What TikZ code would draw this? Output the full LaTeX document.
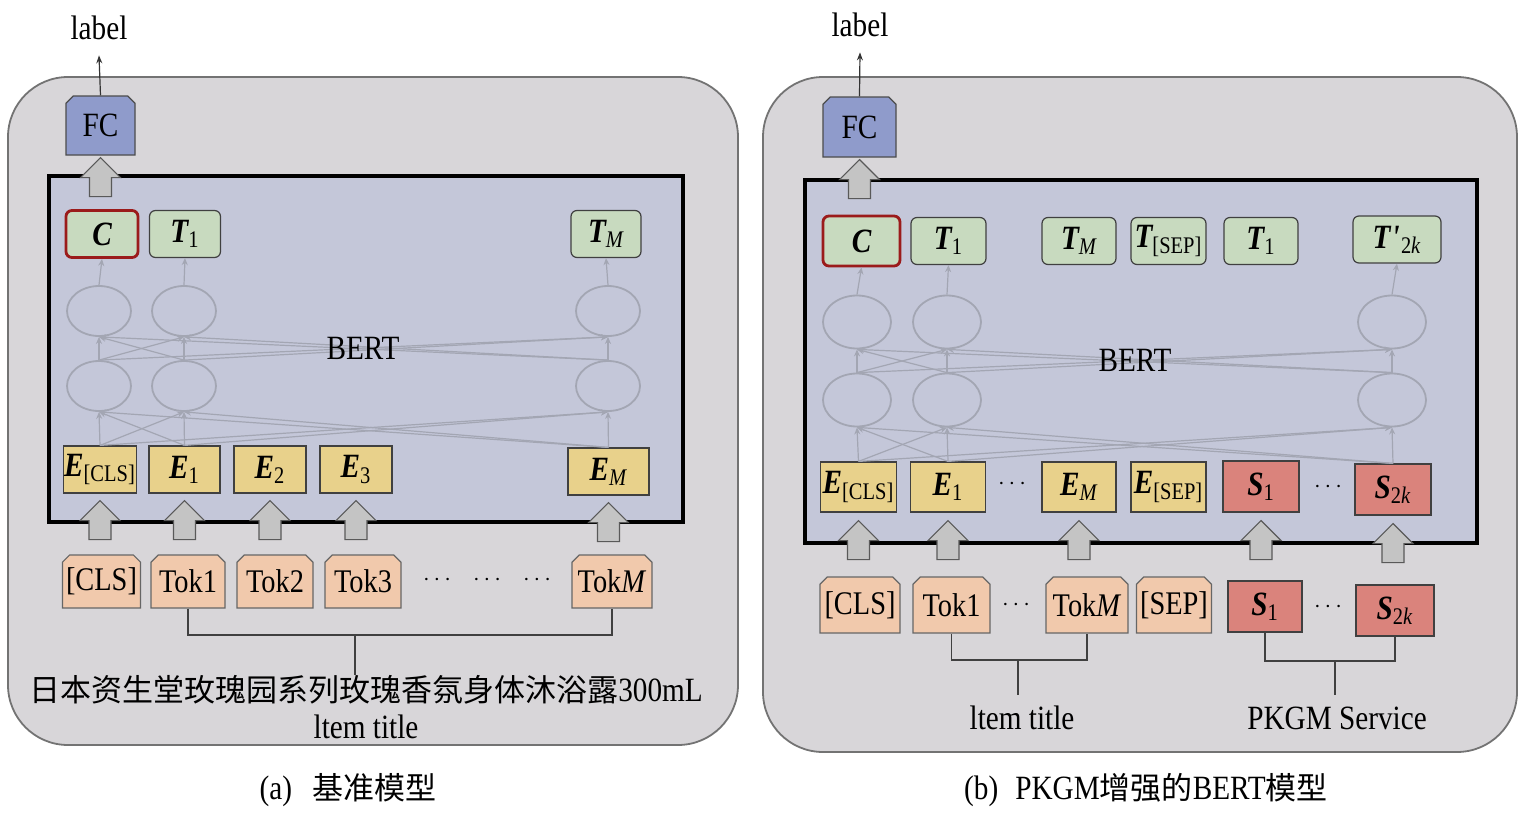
\documentclass[tikz,border=0pt]{standalone}
\usepackage{fontspec}
\setmainfont{Liberation Serif}[FakeStretch=0.86]
\newfontfamily\cjk{Noto Sans CJK SC}
\usetikzlibrary{arrows.meta,shapes.geometric,shapes.misc}

\definecolor{panelgray}{HTML}{D8D6D9}
\definecolor{bertblue}{HTML}{C4C7D9}
\definecolor{fcblue}{HTML}{8F9BCB}
\definecolor{tgreen}{HTML}{C8DABF}
\definecolor{eyellow}{HTML}{E8D18B}
\definecolor{peach}{HTML}{F1C9AC}
\definecolor{sred}{HTML}{DA837C}
\definecolor{cred}{HTML}{9B1B1B}
\definecolor{wiregray}{HTML}{A3A6B3}
\definecolor{arrowgray}{HTML}{C4C4C4}

\newcommand{\lsub}[1]{\textsubscript{\normalfont#1}}

\tikzset{
  txt/.style={inner sep=0pt, font=\fontsize{17}{17}\selectfont},
  dots/.style={inner sep=0pt, font=\fontsize{13}{13}\selectfont},
  panel/.style={draw=black!55, fill=panelgray, line width=0.9pt, rounded corners=30pt},
  bertbox/.style={draw=black, line width=1.6pt, fill=bertblue},
  fcbox/.style={chamfered rectangle, chamfered rectangle corners={north west,north east},
    chamfered rectangle xsep=1.8pt, chamfered rectangle ysep=1.8pt,
    draw=black!70, fill=fcblue, line width=0.6pt, inner sep=0pt, font=\fontsize{17}{17}\selectfont},
  mathbox/.style={draw=black!75, line width=0.6pt, inner sep=0pt, minimum height=23.5pt,
    font=\fontsize{17}{17}\selectfont\bfseries\itshape},
  tbox/.style={mathbox, fill=tgreen, rounded corners=3pt},
  cbox/.style={draw=cred, line width=1.4pt},
  ebox/.style={mathbox, fill=eyellow},
  sbox/.style={mathbox, fill=sred},
  tokbox/.style={chamfered rectangle, chamfered rectangle corners={north west,north east},
    chamfered rectangle xsep=1.8pt, chamfered rectangle ysep=1.8pt,
    draw=black!60, fill=peach, line width=0.6pt, inner sep=0pt, minimum height=26.5pt,
    font=\fontsize{16.5}{16.5}\selectfont},
  neuron/.style={ellipse, draw=wiregray, line width=0.9pt, inner sep=0pt,
    minimum width=32pt, minimum height=25pt},
  wire/.style={draw=wiregray, line width=0.6pt, -{Stealth[length=3.5pt,width=3pt]}},
  thinarrow/.style={draw=black!80, line width=0.6pt, -{Stealth[length=4pt,width=3pt]}},
  bracket/.style={draw=black!75, line width=0.8pt},
  blockarrow/.style={fill=arrowgray, draw=black!65, line width=0.6pt},
  fatup/.pic={\draw[blockarrow] (-11,0) -- (-11,-19) -- (-20,-19) -- (0,-39) -- (20,-19) -- (11,-19) -- (11,0) -- cycle;}
}

\begin{document}
\begin{tikzpicture}[x=0.5pt,y=-0.5pt]
\useasboundingbox (0,0) rectangle (1522,815);

% (a) baseline model
\draw[panel] (8,77) rectangle (738,745);
\draw[bertbox] (49,176) rectangle (683,522);

\node[fcbox, minimum width=34.5pt, minimum height=29.5pt] (fca) at (100.5,125.5) {FC};
\node[txt] (lba) at (99,28) {label};
\draw[thinarrow] (fca.north) -- ([yshift=-7.5pt]lba.south);

\node[tbox, cbox, minimum width=36pt] (ta0) at (102,234) {C};
\node[tbox, minimum width=35.5pt] (ta1) at (185,234) {T\lsub{1}};
\node[tbox, minimum width=35pt] (tam) at (606,234) {T\lsub{\itshape M}};

\foreach \n/\x in {0/99,1/184,m/608} {
  \node[neuron] (ua\n) at (\x,311) {};
  \node[neuron] (da\n) at (\x,386) {};
}

\node[ebox, minimum width=36.5pt] (ea0) at (100,469.5) {E\lsub{[CLS]}};
\node[ebox, minimum width=35.5pt] (ea1) at (184.5,469.5) {E\lsub{1}};
\node[ebox, minimum width=36pt] (ea2) at (270,469.5) {E\lsub{2}};
\node[ebox, minimum width=36pt] (ea3) at (356,469.5) {E\lsub{3}};
\node[ebox, minimum width=40.5pt] (eam) at (608.5,471.5) {E\lsub{\itshape M}};

\foreach \a in {0,1,m} {
  \foreach \b in {0,1,m} {
    \draw[wire] (ea\a.north) -- (da\b.south);
    \draw[wire] (da\a.north) -- (ua\b.south);
  }
  \draw[wire] (ua\a.north) -- (ta\a.south);
}
\node[txt] (berta) at (363,348) {BERT};

\node[tokbox, minimum width=37.5pt] (ka0) at (101.5,581.5) {[CLS]};
\node[tokbox, minimum width=37pt] (ka1) at (188,581.5) {Tok1};
\node[tokbox, minimum width=38pt] (ka2) at (275,581.5) {Tok2};
\node[tokbox, minimum width=38pt] (ka3) at (363,581.5) {Tok3};
\node[tokbox, minimum width=40pt] (kam) at (612,581.5) {Tok\textit{M}};
\node[dots] (dta1) at (437,580) {$\cdots$};
\node[dots] (dta2) at (487,580) {$\cdots$};
\node[dots] (dta3) at (537,580) {$\cdots$};

\foreach \n in {0,1,2,3,m}
  \path (ea\n.south) ++(0,46) pic {fatup};
\path (fca.south) ++(0,41) pic {fatup};

\node[txt, font=\fontsize{15.5}{15.5}\selectfont] (zh) at (366,690) {{\cjk 日本资生堂玫瑰园系列玫瑰香氛身体沐浴露}{\fontsize{17}{17}\selectfont 300mL}};
\node[txt] (ita) at (366,727) {ltem title};
\coordinate (ja) at (355,635);
\draw[bracket] (ka1.south) |- (ja) -| (kam.south);
\draw[bracket] (ja) -- (ja |- zh.north);

\node[txt] (capa) at (348,790) {(a)\hspace{0.6em}{\cjk\fontsize{15.5}{15.5}\selectfont 基准模型}};

% (b) PKGM-enhanced BERT
\draw[panel] (763,77) rectangle (1517,752);
\draw[bertbox] (805,180) rectangle (1477,543);

\node[fcbox, minimum width=36.5pt, minimum height=30pt] (fcb) at (859.5,127) {FC};
\node[txt] (lbb) at (860,25) {label};
\draw[thinarrow] (fcb.north) -- ([yshift=-7.5pt]lbb.south);

\node[tbox, cbox, minimum width=38.5pt, minimum height=25pt] (tb0) at (861.5,241) {C};
\node[tbox, minimum width=37.5pt] (tb1) at (948.5,241) {T\lsub{1}};
\node[tbox, minimum width=37pt] (tbm) at (1079,241) {T\lsub{\itshape M}};
\node[tbox, minimum width=37.5pt] (tbs) at (1168.5,241) {T\lsub{[SEP]}};
\node[tbox, minimum width=37pt] (tbt) at (1261,241) {T\lsub{1}};
\node[tbox, minimum width=44pt] (tbk) at (1397,239.5) {T\kern0.5pt\textquotesingle\lsub{2\itshape k}};

\foreach \n/\x in {0/857,1/947,k/1392} {
  \node[neuron, minimum width=34pt, minimum height=26.5pt] (ub\n) at (\x,322) {};
  \node[neuron, minimum width=34pt, minimum height=26.5pt] (db\n) at (\x,400) {};
}

\node[ebox, minimum width=38pt, minimum height=25pt] (eb0) at (858.5,487) {E\lsub{[CLS]}};
\node[ebox, minimum width=37.5pt, minimum height=25pt] (eb1) at (948,487) {E\lsub{1}};
\node[ebox, minimum width=37pt, minimum height=25pt] (ebm) at (1079,487) {E\lsub{\itshape M}};
\node[ebox, minimum width=37.5pt, minimum height=25pt] (ebs) at (1168.5,487) {E\lsub{[SEP]}};
\node[sbox, minimum width=38pt, minimum height=25.5pt] (sb1) at (1261,486.5) {S\lsub{1}};
\node[sbox, minimum width=38pt, minimum height=25.5pt] (sbk) at (1393,489.5) {S\lsub{2\itshape k}};
\node[dots] (dtb1) at (1012,484) {$\cdots$};
\node[dots] (dtb2) at (1328,487) {$\cdots$};

\foreach \a/\ea in {0/eb0,1/eb1,k/sbk} {
  \foreach \b in {0,1,k} {
    \draw[wire] (\ea.north) -- (db\b.south);
    \draw[wire] (db\a.north) -- (ub\b.south);
  }
}
\draw[wire] (ub0.north) -- (tb0.south);
\draw[wire] (ub1.north) -- (tb1.south);
\draw[wire] (ubk.north) -- (tbk.south);
\node[txt] (bertb) at (1135,360) {BERT};

\node[tokbox, minimum width=40pt, minimum height=28pt] (kb0) at (860,605) {[CLS]};
\node[tokbox, minimum width=38.5pt, minimum height=28pt] (kb1) at (951.5,605) {Tok1};
\node[tokbox, minimum width=41pt, minimum height=28pt] (kbm) at (1087,605) {Tok\textit{M}};
\node[tokbox, minimum width=37pt, minimum height=28pt] (kbs) at (1174,605) {[SEP]};
\node[sbox, minimum width=37pt, minimum height=25.5pt] (ks1) at (1265,606.5) {S\lsub{1}};
\node[sbox, minimum width=39pt, minimum height=25.5pt] (ksk) at (1395,610.5) {S\lsub{2\itshape k}};
\node[dots] (dtb3) at (1016,605) {$\cdots$};
\node[dots] (dtb4) at (1328,607) {$\cdots$};

\foreach \n in {eb0,eb1,ebm,sb1,sbk}
  \path (\n.south) ++(0,47) pic {fatup};
\path (fcb.south) ++(0,41) pic {fatup};

\node[txt] (itb) at (1022,718) {ltem title};
\node[txt] (pkg) at (1337,718) {PKGM Service};
\coordinate (jb) at (1018,660);
\coordinate (js) at (1335,661);
\draw[bracket] (kb1.south) |- (jb) -| (kbm.south);
\draw[bracket, shorten >=5.5pt] (jb) -- (jb |- itb.north);
\draw[bracket] (ks1.south) |- (js) -| (ksk.south);
\draw[bracket, shorten >=5.5pt] (js) -- (js |- pkg.north);

\node[txt] (capb) at (1146,790) {(b)\hspace{0.5em}PKGM{\cjk\fontsize{15.5}{15.5}\selectfont 增强的}BERT{\cjk\fontsize{15.5}{15.5}\selectfont 模型}};
\end{tikzpicture}
\end{document}
